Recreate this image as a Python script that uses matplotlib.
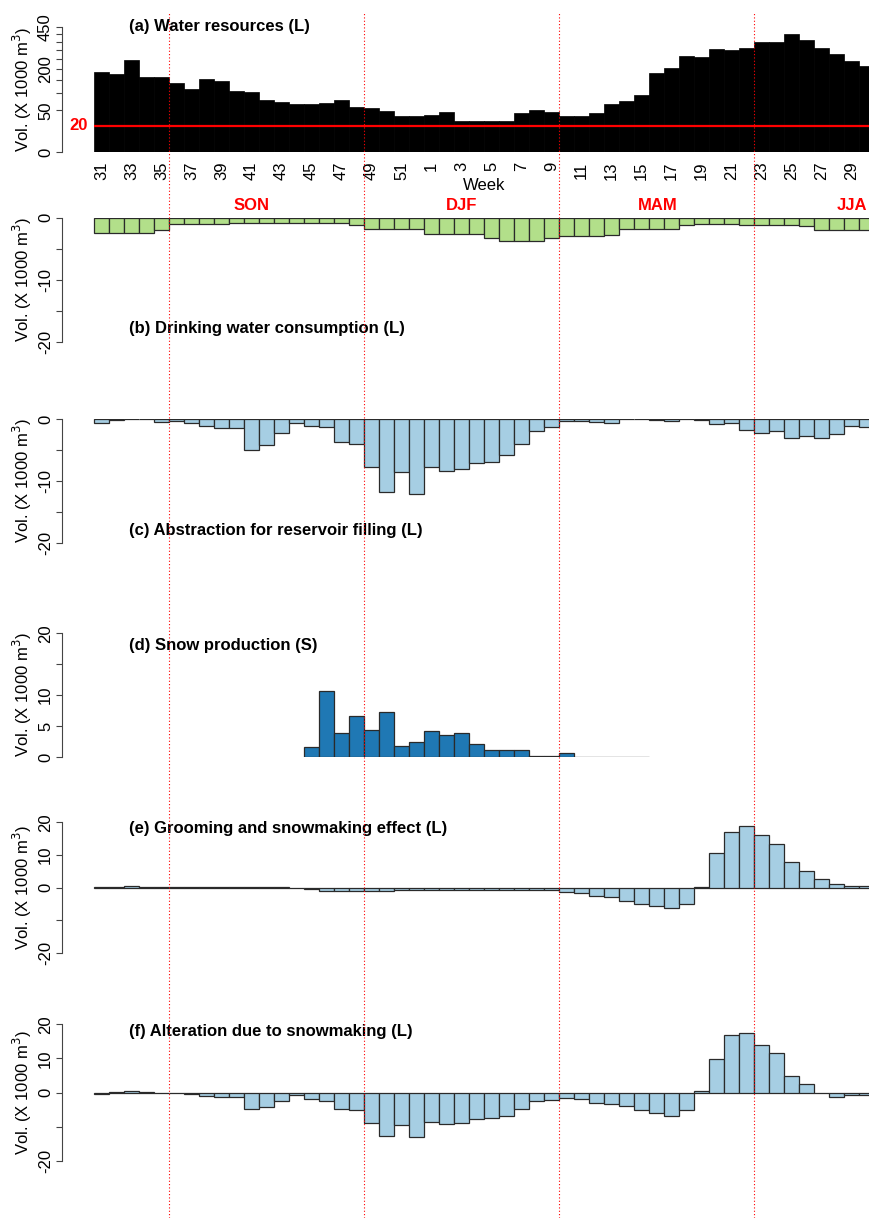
import numpy as np
import matplotlib
matplotlib.use("Agg")
import matplotlib.pyplot as plt
from matplotlib.lines import Line2D
from matplotlib.transforms import blended_transform_factory

plt.rcParams["font.family"] = ["Liberation Sans", "DejaVu Sans"]
plt.rcParams["font.size"] = 12
plt.rcParams["axes.unicode_minus"] = False

W, H = 869, 1218

# weeks from 31 to 52, then 1 to 30
weeks = list(range(31, 53)) + list(range(1, 31))

water = [185, 173, 246, 162, 163, 137, 116, 152, 145, 108, 104, 78, 71, 67, 65, 70,
         78, 59, 56, 48, 37, 37, 39, 45, 28, 28, 28, 28, 43, 50, 45, 37, 37, 43, 66, 75,
         93, 182, 201, 268, 261, 306, 302, 314, 351, 349, 404, 364, 314, 279, 239, 212]
drinking = [-2.4, -2.5, -2.5, -2.5, -2.0, -1.0, -1.0, -1.0, -1.0, -0.9, -0.9, -0.9, -0.9,
            -0.9, -0.9, -0.9, -0.9, -1.2, -1.9, -1.9, -1.9, -1.9, -2.7, -2.7, -2.7, -2.7,
            -3.3, -3.7, -3.7, -3.7, -3.3, -3.0, -3.0, -3.0, -2.8, -1.9, -1.9, -1.9, -1.9,
            -1.1, -1.0, -1.0, -1.0, -1.1, -1.2, -1.2, -1.2, -1.3, -2.0, -2.0, -2.0, -2.0]
abstraction = [-0.7, -0.15, -0.03, -0.02, -0.5, -0.4, -0.7, -1.2, -1.5, -1.5, -5.0, -4.2,
               -2.3, -0.6, -1.2, -1.3, -3.7, -4.0, -7.8, -11.8, -8.6, -12.1, -7.7, -8.3,
               -8.0, -7.0, -6.9, -5.8, -4.1, -1.9, -1.3, -0.3, -0.4, -0.5, -0.7, -0.05,
               -0.05, -0.2, -0.4, -0.05, -0.15, -0.8, -0.6, -1.7, -2.3, -2.0, -3.0, -2.7,
               -3.1, -2.4, -1.1, -1.3]
nan = np.nan
snow = [nan] * 14 + [1.6, 10.7, 3.9, 6.6, 4.4, 7.2, 1.8, 2.4, 4.2, 3.5, 3.9, 2.1, 1.2, 1.2,
                     1.1, 0.1, 0.2, 0.65, 0, 0, 0, 0, 0] + [nan] * 15
grooming = [0.3, 0.3, 0.6, 0.3, 0.3, 0.2, 0.2, 0.3, 0.3, 0.2, 0.2, 0.2, 0.1, 0.0, -0.6,
            -1.0, -1.2, -1.0, -1.0, -1.0, -0.8, -0.9, -0.9, -0.9, -0.9, -0.7, -0.7, -0.9,
            -0.8, -0.8, -0.9, -1.3, -1.6, -2.5, -2.8, -4.0, -5.2, -5.8, -6.4, -5.0, 0.2,
            10.6, 17.1, 19.0, 16.2, 13.3, 7.7, 5.2, 2.7, 1.0, 0.5, 0.5]
alteration = [-0.3, 0.2, 0.5, 0.2, -0.1, -0.1, -0.5, -0.9, -1.4, -1.4, -4.7, -4.2, -2.4,
              -0.6, -2.0, -2.4, -4.8, -5.1, -8.9, -12.9, -9.4, -13.1, -8.6, -9.2, -9.0,
              -7.8, -7.6, -6.8, -4.9, -2.5, -2.2, -1.5, -2.0, -3.0, -3.5, -4.0, -5.1, -6.1,
              -6.8, -5.0, 0.3, 9.8, 16.8, 17.4, 14.0, 11.5, 4.7, 2.5, -0.2, -1.4, -0.6, -0.8]

threshold = 20
season_names = ["SON", "DJF", "MAM", "JJA"]
season_pos = [10.5, 24.5, 37.6, 50.5]
season_breaks = [5, 18, 31, 44]

fig = plt.figure(figsize=(W / 100, H / 100), dpi=100)

X0, XW = 62, 843
XLIM = (-32 / 15, -32 / 15 + XW / 15)
YLAB_X = -0.033
x = np.arange(len(weeks))


def add_panel(top_px, bot_px, ylim, ticks, labels):
    ax = fig.add_axes([X0 / W, 1 - bot_px / H, XW / W, (bot_px - top_px) / H])
    ax.set_xlim(*XLIM)
    ax.set_ylim(*ylim)
    for s in ["top", "right", "bottom"]:
        ax.spines[s].set_visible(False)
    ax.spines["left"].set_color("#444444")
    ax.spines["left"].set_bounds(min(ylim), max(ylim))
    ax.set_xticks([])
    ax.set_yticks(ticks)
    ax.set_yticklabels(labels)
    ax.tick_params(axis="y", direction="out", length=4.5, width=0.8, color="#444444",
                   pad=2, labelrotation=90, labelsize=12)
    for t in ax.get_yticklabels():
        t.set_va("center")
    ax.set_ylabel("Vol. (X 1000 m$^3$)", fontsize=12)
    ax.yaxis.set_label_coords(YLAB_X, 0.5)
    ax.patch.set_alpha(0)
    return ax


def draw_bars(ax, vals, color):
    vals = np.asarray(vals, dtype=float)
    ok = ~np.isnan(vals)
    ax.bar(x[ok], vals[ok], width=1, align="edge", color=color,
           edgecolor="#2a2a2a", linewidth=0.9)


# (a) water resources, sqrt scale
ax_a = fig.add_axes([X0 / W, 1 - 152 / H, XW / W, 125 / H])
ax_a.set_yscale("function", functions=(lambda v: np.sqrt(np.clip(v, 0, None)),
                                       lambda v: np.square(v)))
ax_a.set_xlim(*XLIM)
ax_a.set_ylim(0, 450)
for s in ["top", "right", "bottom"]:
    ax_a.spines[s].set_visible(False)
ax_a.spines["left"].set_color("#444444")
ax_a.bar(x, water, width=1, align="edge", color="black", edgecolor="black", linewidth=0.5)
ax_a.hlines(threshold, 0, len(weeks), color="red", lw=1.6, zorder=3)
ax_a.text(-0.45, threshold, "20", color="red", fontweight="bold", ha="right", va="center",
          fontsize=12)
ax_a.set_yticks([0, 50, 200, 450])
ax_a.set_yticklabels(["0", "50", "200", "450"])
ax_a.set_yticks([100, 150, 250, 300, 350, 400], minor=True)
ax_a.yaxis.set_minor_formatter(plt.NullFormatter())
ax_a.tick_params(axis="y", which="both", direction="out", length=4.5, width=0.8,
                 color="#444444", pad=2, labelrotation=90, labelsize=12)
for t in ax_a.get_yticklabels():
    t.set_va("center")
ax_a.set_xticks(x[::2] + 0.5)
ax_a.set_xticklabels([str(w) for w in weeks[::2]], rotation=90, fontsize=12)
ax_a.tick_params(axis="x", length=0, pad=7)
ax_a.set_ylabel("Vol. (X 1000 m$^3$)", fontsize=12)
ax_a.yaxis.set_label_coords(YLAB_X, 0.5)
ax_a.text(2.35, 450, "(a) Water resources (L)", fontweight="bold", ha="left", va="center")
fig.text(484 / W, 1 - 185 / H, "Week", ha="center", va="center", fontsize=12)

# (b) drinking water
ax_b = add_panel(217.7, 341.7, (-20, 0), [0, -5, -10, -15, -20],
                 ["0", "", "-10", "", "-20"])
draw_bars(ax_b, drinking, "#B2DF8A")
ax_b.text(2.35, -17.8, "(b) Drinking water consumption (L)", fontweight="bold",
          ha="left", va="center")
tr = blended_transform_factory(ax_b.transData, fig.transFigure)
for name, pos in zip(season_names, season_pos):
    ax_b.text(pos, 1 - 205 / H, name, transform=tr, color="red", fontweight="bold",
              ha="center", va="center", fontsize=12)

# (c) abstraction
ax_c = add_panel(419, 543.3, (-20, 0), [0, -5, -10, -15, -20],
                 ["0", "", "-10", "", "-20"])
draw_bars(ax_c, abstraction, "#A6CEE3")
ax_c.text(2.35, -17.9, "(c) Abstraction for reservoir filling (L)", fontweight="bold",
          ha="left", va="center")

# (d) snow production
ax_d = add_panel(633.3, 757, (0, 20), [0, 5, 10, 15, 20], ["0", "5", "10", "", "20"])
draw_bars(ax_d, snow, "#1F78B4")
ax_d.text(2.35, 18.1, "(d) Snow production (S)", fontweight="bold", ha="left", va="center")

# (e) grooming and snowmaking
ax_e = add_panel(822.3, 952.7, (-20, 20), [20, 10, 0, -10, -20],
                 ["20", "10", "0", "", "-20"])
draw_bars(ax_e, grooming, "#A6CEE3")
ax_e.text(2.35, 18.2, "(e) Grooming and snowmaking effect (L)", fontweight="bold",
          ha="left", va="center")

# (f) alteration
ax_f = add_panel(1024.3, 1160.7, (-20, 20), [20, 10, 0, -10, -20],
                 ["20", "10", "0", "", "-20"])
draw_bars(ax_f, alteration, "#A6CEE3")
ax_f.text(2.35, 17.8, "(f) Alteration due to snowmaking (L)", fontweight="bold",
          ha="left", va="center")

# season separators across the whole figure
vtr = blended_transform_factory(ax_a.transData, fig.transFigure)
for b in season_breaks:
    fig.add_artist(Line2D([b, b], [0, 1 - 12 / H], transform=vtr, color="red",
                          lw=0.8, linestyle=(0, (1, 2)), zorder=10))

fig.savefig("out.png", dpi=100)
